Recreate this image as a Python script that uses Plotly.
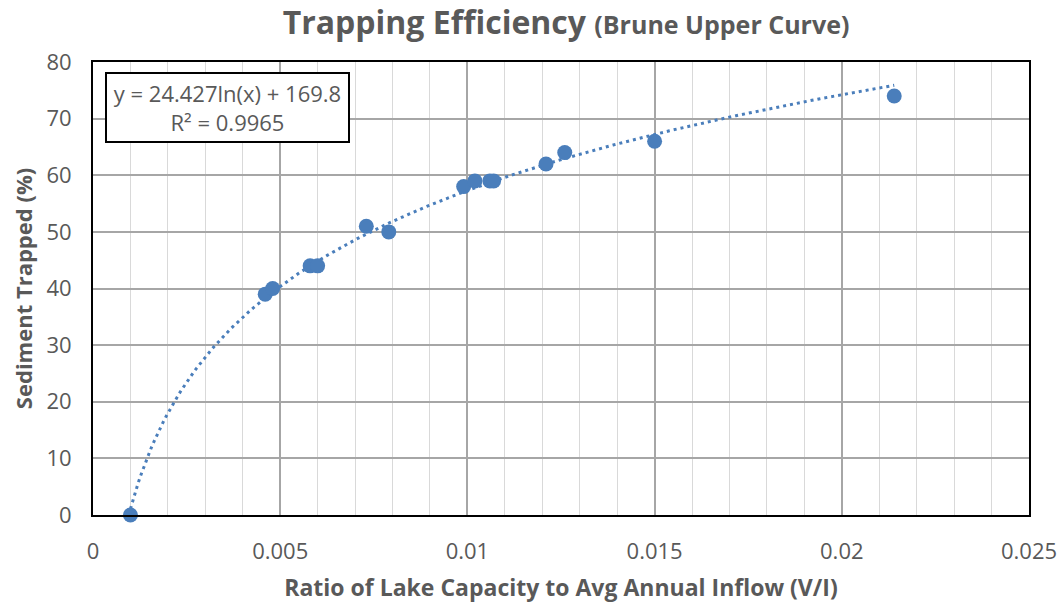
import numpy as np
import plotly.graph_objects as go

# Ratio of lake capacity to average annual inflow (V/I) and sediment trapped (%)
ratio_vi = [0.0010, 0.0046, 0.0048, 0.0058, 0.0060, 0.0073, 0.0079, 0.0099,
            0.0102, 0.0106, 0.0107, 0.0121, 0.0126, 0.0150, 0.0214]
trapped_pct = [0, 39, 40, 44, 44, 51, 50, 58, 59, 59, 59, 62, 64, 66, 74]

# Logarithmic trendline coefficients: y = a*ln(x) + b
trend_a = 24.427
trend_b = 169.8
trend_r2 = 0.9965

x_ticks = [0, 0.005, 0.01, 0.015, 0.02, 0.025]
x_tick_text = ["0", "0.005", "0.01", "0.015", "0.02", "0.025"]
y_ticks = [0, 10, 20, 30, 40, 50, 60, 70, 80]

FONT = "Open Sans"
GREY = "#595959"
BLUE = "#4a7ebb"

xt = np.linspace(min(ratio_vi), max(ratio_vi), 300)
yt = trend_a * np.log(xt) + trend_b

fig = go.Figure()
fig.add_trace(go.Scatter(
    x=xt, y=yt, mode="lines",
    line=dict(color=BLUE, width=3, dash="3px,4px"),
    hoverinfo="skip", showlegend=False,
))
fig.add_trace(go.Scatter(
    x=ratio_vi, y=trapped_pct, mode="markers",
    marker=dict(color=BLUE, size=15),
    showlegend=False, cliponaxis=False,
))

fig.add_annotation(
    xref="paper", yref="paper", x=0.013, y=0.978,
    xanchor="left", yanchor="top",
    text=f"y = {trend_a}ln(x) + {trend_b}<br>R² = {trend_r2}",
    showarrow=False, align="center",
    width=239, height=65,
    font=dict(family=FONT, size=22, color=GREY),
    bgcolor="white", bordercolor="black", borderwidth=2, borderpad=1,
)

fig.update_layout(
    width=1062, height=605,
    margin=dict(l=93, r=33, t=62, b=90),
    paper_bgcolor="white", plot_bgcolor="white",
    font=dict(family=FONT, color=GREY),
    title=dict(
        text="<b>Trapping Efficiency</b> <b><span style='font-size:25px'>(Brune Upper Curve)</span></b>",
        x=0.533, xanchor="center", y=0.963, yanchor="middle",
        font=dict(family=FONT, size=32, color=GREY),
    ),
    xaxis=dict(
        range=[0, 0.025], tickvals=x_ticks, ticktext=x_tick_text,
        automargin=False,
        showgrid=True, gridcolor="#a6a6a6", gridwidth=2,
        minor=dict(dtick=0.001, showgrid=True, gridcolor="#d9d9d9", gridwidth=1),
        showline=True, linecolor="black", linewidth=2, mirror=True,
        zeroline=False, ticks="", ticklabelstandoff=16,
        tickfont=dict(family=FONT, size=22, color=GREY),
        title=dict(text="<b>Ratio of Lake Capacity to Avg Annual Inflow (V/I)</b>",
                   font=dict(family=FONT, size=23, color=GREY), standoff=15),
    ),
    yaxis=dict(
        range=[0, 80], tickvals=y_ticks,
        automargin=False,
        showgrid=True, gridcolor="#a6a6a6", gridwidth=2,
        showline=True, linecolor="black", linewidth=2, mirror=True,
        zeroline=False, ticks="", ticklabelstandoff=15,
        tickfont=dict(family=FONT, size=22, color=GREY),
        title=dict(text="<b>Sediment Trapped (%)</b>",
                   font=dict(family=FONT, size=22, color=GREY), standoff=8),
    ),
)

fig.write_html("out.html")
